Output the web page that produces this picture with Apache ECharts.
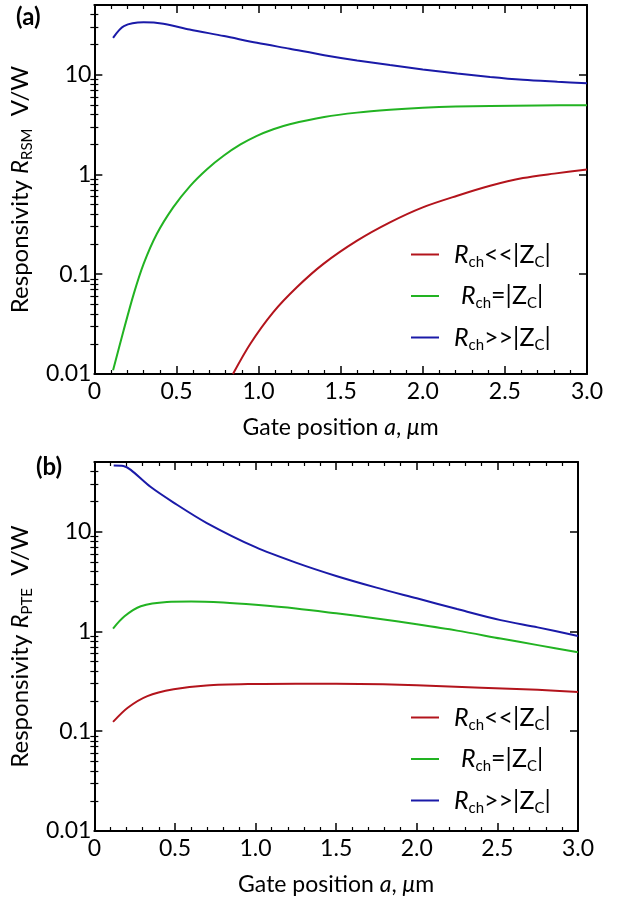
<!DOCTYPE html>
<html><head><meta charset="utf-8">
<script src="https://cdn.jsdelivr.net/npm/echarts@6/dist/echarts.min.js"></script>
<style>html,body{margin:0;padding:0;background:#fff}#c{width:629px;height:897px}</style>
</head><body><div id="c"></div>
<script>
// ---------- data ----------
const seriesNames = ['Rch<<|ZC|', 'Rch=|ZC|', 'Rch>>|ZC|'];
const seriesColors = ['#b3141c', '#22b322', '#1a1aa8'];
const xTickLabels = ['0', '0.5', '1.0', '1.5', '2.0', '2.5', '3.0'];
const yTickLabels = ['0.01', '0.1', '1', '10'];

// panel (a): R_RSM
const aRedX   = [0.844, 0.95, 1.09, 1.233, 1.395, 1.6, 1.8, 2.0, 2.21, 2.41, 2.61, 2.8, 3.0];
const aRedY   = [0.01, 0.0201, 0.0417, 0.074, 0.127, 0.217, 0.331, 0.468, 0.612, 0.77, 0.92, 1.02, 1.12];
const aGreenX = [0.114, 0.178, 0.24, 0.3, 0.38, 0.48, 0.584, 0.686, 0.787, 0.89, 0.99, 1.09, 1.19, 1.4, 1.6, 1.8, 2.0, 2.2, 2.41, 2.7, 3.0];
const aGreenY = [0.0109, 0.0273, 0.0636, 0.127, 0.253, 0.468, 0.77, 1.13, 1.54, 2.0, 2.44, 2.84, 3.19, 3.77, 4.17, 4.45, 4.66, 4.8, 4.87, 4.92, 4.94];
const aBlueX  = [0.114, 0.18, 0.3, 0.42, 0.58, 0.79, 0.99, 1.19, 1.4, 1.6, 1.8, 2.0, 2.21, 2.41, 2.61, 2.82, 3.0];
const aBlueY  = [23.4, 30.7, 33.5, 32.4, 28.4, 24.4, 20.9, 18.2, 15.7, 13.9, 12.5, 11.3, 10.3, 9.5, 8.9, 8.5, 8.2];

// panel (b): R_PTE
const bRedX   = [0.116, 0.207, 0.329, 0.492, 0.695, 1.0, 1.25, 1.5, 1.79, 2.0, 2.4, 2.75, 3.0];
const bRedY   = [0.124, 0.172, 0.225, 0.263, 0.288, 0.298, 0.3, 0.299, 0.295, 0.289, 0.273, 0.26, 0.247];
const bGreenX = [0.116, 0.187, 0.288, 0.45, 0.6, 0.8, 1.0, 1.25, 1.5, 1.75, 2.0, 2.25, 2.52, 2.75, 3.0];
const bGreenY = [1.07, 1.42, 1.79, 1.98, 2.0, 1.95, 1.85, 1.7, 1.52, 1.35, 1.18, 1.02, 0.85, 0.73, 0.62];
const bBlueX  = [0.12, 0.18, 0.226, 0.348, 0.494, 0.695, 1.0, 1.25, 1.5, 1.75, 2.0, 2.25, 2.52, 2.75, 3.0];
const bBlueY  = [46, 45.5, 41.7, 28.2, 19.5, 12.3, 7.0, 4.9, 3.6, 2.75, 2.15, 1.68, 1.3, 1.1, 0.9];

// ---------- helpers ----------
const FONT = 'Lato';
const Y_MIN = 0.01, Y_MAX = 50;
const pair = (xs, ys) => xs.map((x, i) => [x, ys[i]]);
const minorLogTicks = [];
for (let n = -2; n <= 1; n++) for (let k = 2; k <= 9; k++) {
  const v = Math.log10(k * Math.pow(10, n));
  if (v < Math.log10(Y_MAX)) minorLogTicks.push(v);
}
const black = '#000';

const grids = [
  { left: 94, right: 42, top: 5, height: 369 },
  { left: 86, right: 51, top: 462, height: 370 }
];

const xName = '{n|Gate position }{i|a}{n|, }{i|\u03bc}{n|m}';
const yNames = [
  '{n|Responsivity }{i|R}{s|RSM}{n|  V/W}',
  '{n|Responsivity }{i|R}{s|PTE}{n|  V/W}'
];

const xAxes = [], yAxes = [], series = [], legends = [];
grids.forEach((g, gi) => {
  const xBase = {
    gridIndex: gi, type: 'value', min: 0, max: 3, interval: 0.5,
    axisLine: { onZero: false, lineStyle: { color: black, width: 2 } },
    axisTick: { inside: true, length: 8, lineStyle: { color: black, width: 1.5 } },
    minorTick: { show: true, splitNumber: 5, length: 4, lineStyle: { color: black, width: 1.2 } },
    splitLine: { show: false }
  };
  xAxes.push(Object.assign({}, xBase, {
    position: 'bottom',
    axisLabel: { fontFamily: FONT, fontSize: 23, color: black, margin: 6,
      formatter: v => xTickLabels[Math.round(v / 0.5)] },
    name: xName, nameLocation: 'middle', nameGap: 42,
    nameTextStyle: { color: black, rich: {
      n: { fontFamily: FONT, fontSize: 23, color: black },
      i: { fontFamily: FONT, fontSize: 23, fontStyle: 'italic', color: black } } }
  }));
  xAxes.push(Object.assign({}, xBase, { position: 'top', axisLabel: { show: false } }));

  const yLog = {
    gridIndex: gi, type: 'log', logBase: 10, min: Y_MIN, max: Y_MAX,
    axisLine: { show: true, onZero: false, lineStyle: { color: black, width: 2 } },
    axisTick: { inside: true, length: 8, lineStyle: { color: black, width: 1.5 } },
    splitLine: { show: false }
  };
  yAxes.push(Object.assign({}, yLog, {
    position: 'left',
    axisLabel: { fontFamily: FONT, fontSize: 23, color: black, margin: 3, showMaxLabel: false,
      formatter: v => yTickLabels[Math.round(Math.log10(v)) + 2] || '' },
    name: yNames[gi], nameLocation: 'middle', nameRotate: 90, nameGap: 42,
    nameTextStyle: { color: black, rich: {
      n: { fontFamily: FONT, fontSize: 24, color: black, lineHeight: 30 },
      i: { fontFamily: FONT, fontSize: 24, fontStyle: 'italic', color: black, lineHeight: 30 },
      s: { fontFamily: FONT, fontSize: 15, color: black, verticalAlign: 'bottom', lineHeight: 14 } } }
  }));
  yAxes.push(Object.assign({}, yLog, { position: 'right', axisLabel: { show: false } }));
  const yMinor = {
    gridIndex: gi, type: 'value', min: -2, max: Math.log10(Y_MAX),
    axisLine: { show: false }, axisLabel: { show: false }, splitLine: { show: false },
    axisTick: { show: true, inside: true, length: 4, customValues: minorLogTicks,
      lineStyle: { color: black, width: 1.2 } }
  };
  yAxes.push(Object.assign({}, yMinor, { position: 'left' }));
  yAxes.push(Object.assign({}, yMinor, { position: 'right' }));

  const data = gi === 0
    ? [pair(aRedX, aRedY), pair(aGreenX, aGreenY), pair(aBlueX, aBlueY)]
    : [pair(bRedX, bRedY), pair(bGreenX, bGreenY), pair(bBlueX, bBlueY)];
  data.forEach((d, si) => {
    series.push({
      name: seriesNames[si], type: 'line', xAxisIndex: gi * 2, yAxisIndex: gi * 4,
      data: d, showSymbol: false, smooth: 0.3, clip: true,
      lineStyle: { color: seriesColors[si], width: 2 }, itemStyle: { color: seriesColors[si] },
      z: 3
    });
  });

  legends.push({
    data: seriesNames, orient: 'vertical', left: 406, top: gi === 0 ? 237 : 700,
    icon: 'rect', itemWidth: 28, itemHeight: 2, itemGap: 14, selectedMode: false,
    formatter: name => {
      const rel = name === seriesNames[0] ? '<<' : name === seriesNames[1] ? '=' : '>>';
      const pad = name === seriesNames[1] ? '{g2| }' : '{g| }';
      return pad + '{i|R}{s|ch}{n|' + rel + '|Z}{s|C}{n||}';
    },
    textStyle: { color: black, rich: {
      g: { width: 10 }, g2: { width: 17 },
      i: { fontFamily: FONT, fontSize: 25, fontStyle: 'italic', color: black, lineHeight: 30 },
      n: { fontFamily: FONT, fontSize: 25, color: black, lineHeight: 30 },
      s: { fontFamily: FONT, fontSize: 15, color: black, verticalAlign: 'bottom', lineHeight: 14 } } }
  });
});

const chart = echarts.init(document.getElementById('c'), null, { renderer: 'canvas' });
chart.setOption({
  backgroundColor: '#fff',
  animation: false,
  title: [
    { text: '(a)', left: 11, top: 0, textStyle: { fontFamily: FONT, fontSize: 24, fontWeight: 'bold', color: black } },
    { text: '(b)', left: 31, top: 450, textStyle: { fontFamily: FONT, fontSize: 24, fontWeight: 'bold', color: black } }
  ],
  grid: grids,
  xAxis: xAxes,
  yAxis: yAxes,
  legend: legends,
  series: series
});
</script>
</body></html>
